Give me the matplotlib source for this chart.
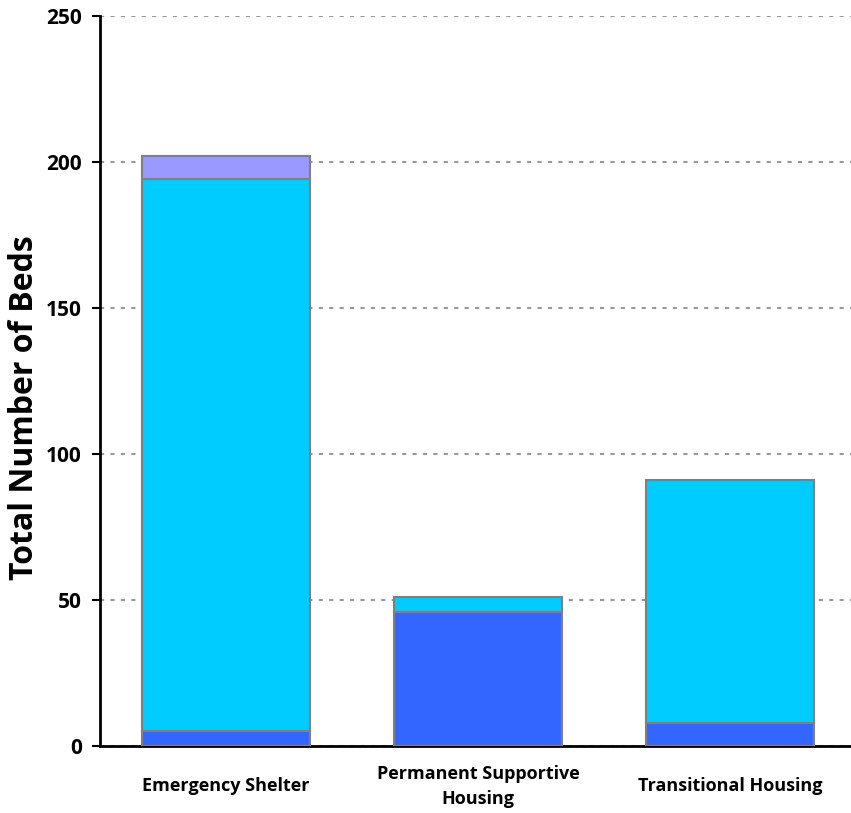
import numpy as np
import matplotlib.pyplot as plt
import matplotlib as mpl

mpl.rcParams["font.family"] = ["Open Sans", "DejaVu Sans"]
mpl.rcParams["font.weight"] = "bold"

categories = ["Emergency Shelter", "Permanent Supportive\nHousing", "Transitional Housing"]
seg_bottom = [5, 46, 8]
seg_middle = [189, 5, 83]
seg_top = [8, 0, 0]
colors = ["#3366FF", "#00CCFF", "#9999FF"]

fig = plt.figure(figsize=(8.51, 8.13), dpi=100, facecolor="w")
ax = fig.add_axes([0.1175, 0.0824, 0.8825, 0.898])

x = np.arange(len(categories))
w = 0.667
base = np.zeros(len(categories))
for vals, c in zip([seg_bottom, seg_middle, seg_top], colors):
    vals = np.array(vals, dtype=float)
    mask = vals > 0
    ax.bar(x[mask], vals[mask], w, bottom=base[mask], color=c,
           edgecolor="#808080", linewidth=1.5, zorder=3)
    base += vals

ax.set_xlim(-0.5, 2.48)
ax.set_ylim(0, 250)
ax.set_yticks(np.arange(0, 251, 50))
ax.set_xticks(x)
ax.set_xticklabels(categories, fontsize=13, fontweight="bold", linespacing=1.5, va="center")
ax.tick_params(axis="x", length=0, pad=29)
ax.tick_params(axis="y", length=6, width=1.5, labelsize=15, pad=7, direction="out")
for lab in ax.get_yticklabels():
    lab.set_fontweight("bold")
ax.yaxis.grid(True, linestyle=(0, (2, 3)), color="#999999", linewidth=1.5, zorder=0)
ax.set_axisbelow(True)
for s in ["top", "right"]:
    ax.spines[s].set_visible(False)
for s in ["left", "bottom"]:
    ax.spines[s].set_linewidth(2)
    ax.spines[s].set_color("black")
ax.set_ylabel("Total Number of Beds", fontsize=23, fontweight="bold", va="center")
ax.yaxis.set_label_coords(-0.1, 0.464)

fig.savefig("out.png", dpi=100)
